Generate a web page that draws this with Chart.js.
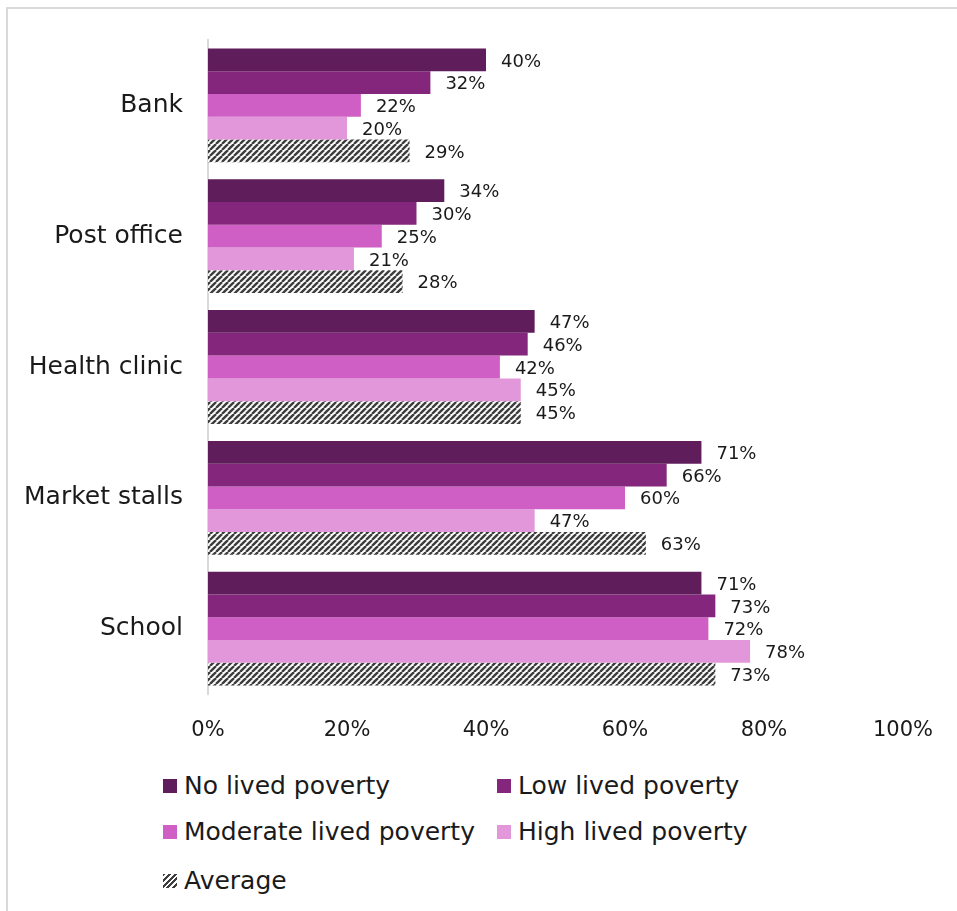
<!DOCTYPE html>
<html>
<head>
<meta charset="utf-8">
<script src="https://cdn.jsdelivr.net/npm/chart.js@4"></script>
<style>
  body { margin: 0; background: #fff; font-family: 'DejaVu Sans', sans-serif; }
  #wrap { position: absolute; left: 6px; top: 7px; width: 951px; height: 904px; border-left: 2px solid #d9d9d9; border-top: 2px solid #d9d9d9; }
  #chartbox { position: absolute; left: 0; top: 0; width: 957px; height: 760px; }
  #legend { position: absolute; left: 163px; top: 771px; font-size: 25px; color: #1a1a1a; }
  .item { position: absolute; white-space: nowrap; display: flex; align-items: center; }
  .sw { width: 14px; height: 14px; margin-right: 7px; }
</style>
</head>
<body>
<div id="wrap"></div>
<div id="chartbox"><canvas id="c" width="957" height="760"></canvas></div>
<div id="legend"></div>
<script>
const categories = ['Bank', 'Post office', 'Health clinic', 'Market stalls', 'School'];
const seriesNames = ['No lived poverty', 'Low lived poverty', 'Moderate lived poverty', 'High lived poverty', 'Average'];
const noPoverty = [40, 34, 47, 71, 71];
const lowPoverty = [32, 30, 46, 66, 73];
const moderatePoverty = [22, 25, 42, 60, 72];
const highPoverty = [20, 21, 45, 47, 78];
const average = [29, 28, 45, 63, 73];
const xTicks = [0, 20, 40, 60, 80, 100];

function hatch(size) {
  let cv = document.createElement('canvas');
  cv.width = size; cv.height = size;
  let g = cv.getContext('2d');
  g.fillStyle = '#ffffff';
  g.fillRect(0, 0, size, size);
  g.strokeStyle = '#3d3d3d';
  g.lineWidth = 2.4;
  for (let k = -1; k <= 1; k++) {
    g.beginPath();
    g.moveTo(k * size, size);
    g.lineTo(k * size + size, 0);
    g.stroke();
  }
  return g.createPattern(cv, 'repeat');
}

const colors = ['#5f1e5b', '#84267b', '#cf5fc4', '#e297da'];

let ctx = document.getElementById('c').getContext('2d');
let pattern = hatch(6);
const allData = [noPoverty, lowPoverty, moderatePoverty, highPoverty, average];

const labelPlugin = {
  id: 'barLabels',
  afterDatasetsDraw(chart) {
    let g = chart.ctx;
    g.save();
    g.font = '18px "DejaVu Sans"';
    g.fillStyle = '#1a1a1a';
    g.textBaseline = 'middle';
    g.textAlign = 'left';
    chart.data.datasets.forEach((ds, i) => {
      chart.getDatasetMeta(i).data.forEach((bar, j) => {
        g.fillText(ds.data[j] + '%', bar.x + 15, bar.y + 2);
      });
    });
    g.restore();
  }
};

let myChart = new Chart(ctx, {
  type: 'bar',
  data: {
    labels: categories,
    datasets: allData.map((d, i) => ({
      label: seriesNames[i],
      data: d,
      backgroundColor: i < 4 ? colors[i] : pattern,
      borderWidth: 0,
      barPercentage: 1,
      categoryPercentage: 0.87,
    })),
  },
  options: {
    indexAxis: 'y',
    responsive: false,
    animation: false,
    layout: { padding: { top: 35, right: 44, left: 0, bottom: 0 } },
    scales: {
      x: {
        min: 0,
        max: 100,
        afterBuildTicks: (s) => { s.ticks = xTicks.map(v => ({ value: v })); },
        grid: { display: false, drawTicks: false },
        border: { display: false },
        ticks: { callback: (v) => v + '%', font: { size: 21, family: 'DejaVu Sans' }, color: '#1a1a1a', padding: 24, maxRotation: 0 },
        afterFit: (s) => { s.height = 66; },
      },
      y: {
        grid: { display: false, drawTicks: false },
        border: { display: true, color: '#d9d9d9', width: 2 },
        ticks: { font: { size: 25, family: 'DejaVu Sans' }, color: '#1a1a1a', padding: 25 },
        afterFit: (s) => { s.width = 208; },
      },
    },
    plugins: {
      legend: { display: false },
      tooltip: { enabled: false },
    },
  },
  plugins: [labelPlugin],
});

// legend
let lg = document.getElementById('legend');
const legendPos = [[0, 0], [334, 0], [0, 46], [334, 46], [0, 95]];
seriesNames.forEach((name, i) => {
  let it = document.createElement('div');
  it.className = 'item';
  it.style.left = legendPos[i][0] + 'px';
  it.style.top = legendPos[i][1] + 'px';
  let sw = document.createElement('div');
  sw.className = 'sw';
  if (i < 4) {
    sw.style.background = colors[i];
  } else {
    sw.style.background = 'repeating-linear-gradient(135deg, #3d3d3d 0 2px, #fff 2px 4px)';
  }
  it.appendChild(sw);
  let t = document.createElement('span');
  t.textContent = name;
  it.appendChild(t);
  lg.appendChild(it);
});
</script>
</body>
</html>
